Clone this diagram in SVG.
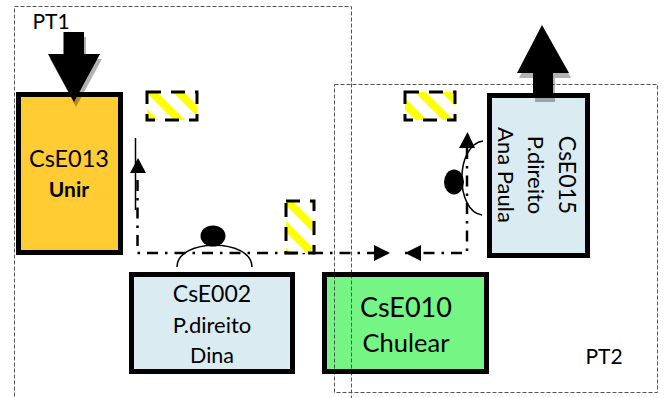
<svg xmlns="http://www.w3.org/2000/svg" width="665" height="398" viewBox="0 0 665 398">
<style>
text{font-family:Lato,"Liberation Sans",sans-serif;fill:#000;text-anchor:middle}
.zone{fill:none;stroke:#555;stroke-width:1;stroke-dasharray:4 2}
.box{stroke:#000;stroke-width:5}
.flow{fill:none;stroke:#000;stroke-width:2.500;stroke-dasharray:11 7 2.500 7}
.bar{fill:url(#hatch);stroke:none}
.barline{fill:none;stroke:#000;stroke-width:3;stroke-dasharray:14 10}
.op{fill:none;stroke:#000;stroke-width:1.500}
</style>
<defs>
<pattern id="hatch" width="19" height="19" patternUnits="userSpaceOnUse" patternTransform="rotate(-45)">
<rect width="19" height="19" fill="#fff"/><rect width="8" height="19" fill="#ff0"/>
</pattern>
<marker id="ah" markerWidth="16" markerHeight="16" refX="16" refY="8" orient="auto" markerUnits="userSpaceOnUse"><path d="M0 0L16 8L0 16Z" fill="#000"/></marker>
</defs>
<g id="zones">
<rect class="zone" x="14.500" y="6.500" width="337" height="392"/>
<rect class="zone" x="334.500" y="84.500" width="323" height="308"/>
</g>
<g id="connectors">
<path class="flow" d="M137.500 180V253H390" marker-end="url(#ah)"/>
<path d="M135.500 138V210" fill="none" stroke="#000" stroke-width="1.500"/>
<path d="M130 173L138 158L146 173Z" fill="#000"/>
<path class="flow" d="M467 148V253H405" marker-end="url(#ah)"/>
<path d="M459 148L467.500 132L475 148Z" fill="#000"/>
</g>
<g id="CsE013">
<rect class="box" x="18.500" y="94.500" width="102" height="158" fill="#ffcc33"/>
<text x="69" y="167" font-size="23.500">CsE013</text>
<text x="69" y="197" font-size="21" font-weight="700">Unir</text>
</g>
<g id="CsE002">
<rect class="box" x="131.500" y="274.500" width="161" height="97" fill="#daebf2"/>
<text x="212" y="302" font-size="23">CsE002</text>
<text x="212" y="333" font-size="22">P.direito</text>
<text x="212" y="363" font-size="21.500">Dina</text>
</g>
<g id="CsE010">
<rect x="324.500" y="274.500" width="162" height="97" fill="#74f584"/>
<path class="zone" d="M334.500 274.500V371.500M351.500 274.500V371.500"/>
<rect class="box" x="324.500" y="274.500" width="162" height="97" fill="none"/>
<text x="406" y="317" font-size="27">CsE010</text>
<text x="406" y="352" font-size="25.500">Chulear</text>
</g>
<g id="CsE015">
<rect class="box" x="489.500" y="95.500" width="98" height="160" fill="#daebf2"/>
<text transform="translate(559 175) rotate(90)" font-size="23">CsE015</text>
<text transform="translate(528 175) rotate(90)" font-size="22">P.direito</text>
<text transform="translate(498 175) rotate(90)" font-size="22">Ana Paula</text>
</g>
<g id="arrow-in">
<path d="M63.500 32H84V54H100L74 102L48 54H63.500Z" fill="#000" opacity=".3" transform="translate(2 5)"/>
<path d="M63.500 32H84V54H100L74 102L48 54H63.500Z" fill="#000"/>
</g>
<g id="arrow-out">
<path d="M533 73H517L542 25L569 73H553V97H533Z" fill="#000" opacity=".3" transform="translate(2 5)"/>
<path d="M533 73H517L542 25L569 73H553V97H533Z" fill="#000"/>
</g>
<g id="bar-1"><rect class="bar" x="147" y="92" width="50" height="28"/><rect class="barline" x="147" y="92" width="50" height="28"/></g>
<g id="bar-2"><rect class="bar" x="286" y="201" width="28" height="52"/><rect class="barline" x="286" y="201" width="28" height="52"/></g>
<g id="bar-3"><rect class="bar" x="405" y="92" width="50" height="28"/><rect class="barline" x="405" y="92" width="50" height="28"/></g>
<g id="operator-1"><ellipse cx="213" cy="236" rx="12.500" ry="10.500" fill="#000"/><path class="op" d="M177 267C177 238 252 238 252 267"/></g>
<g id="operator-2"><ellipse cx="454" cy="182" rx="10" ry="12.500" fill="#000"/><path class="op" d="M483 141C455 145 455 211 482 215"/></g>
<text x="51" y="29" font-size="21">PT1</text>
<text x="604" y="364" font-size="21">PT2</text>
</svg>
